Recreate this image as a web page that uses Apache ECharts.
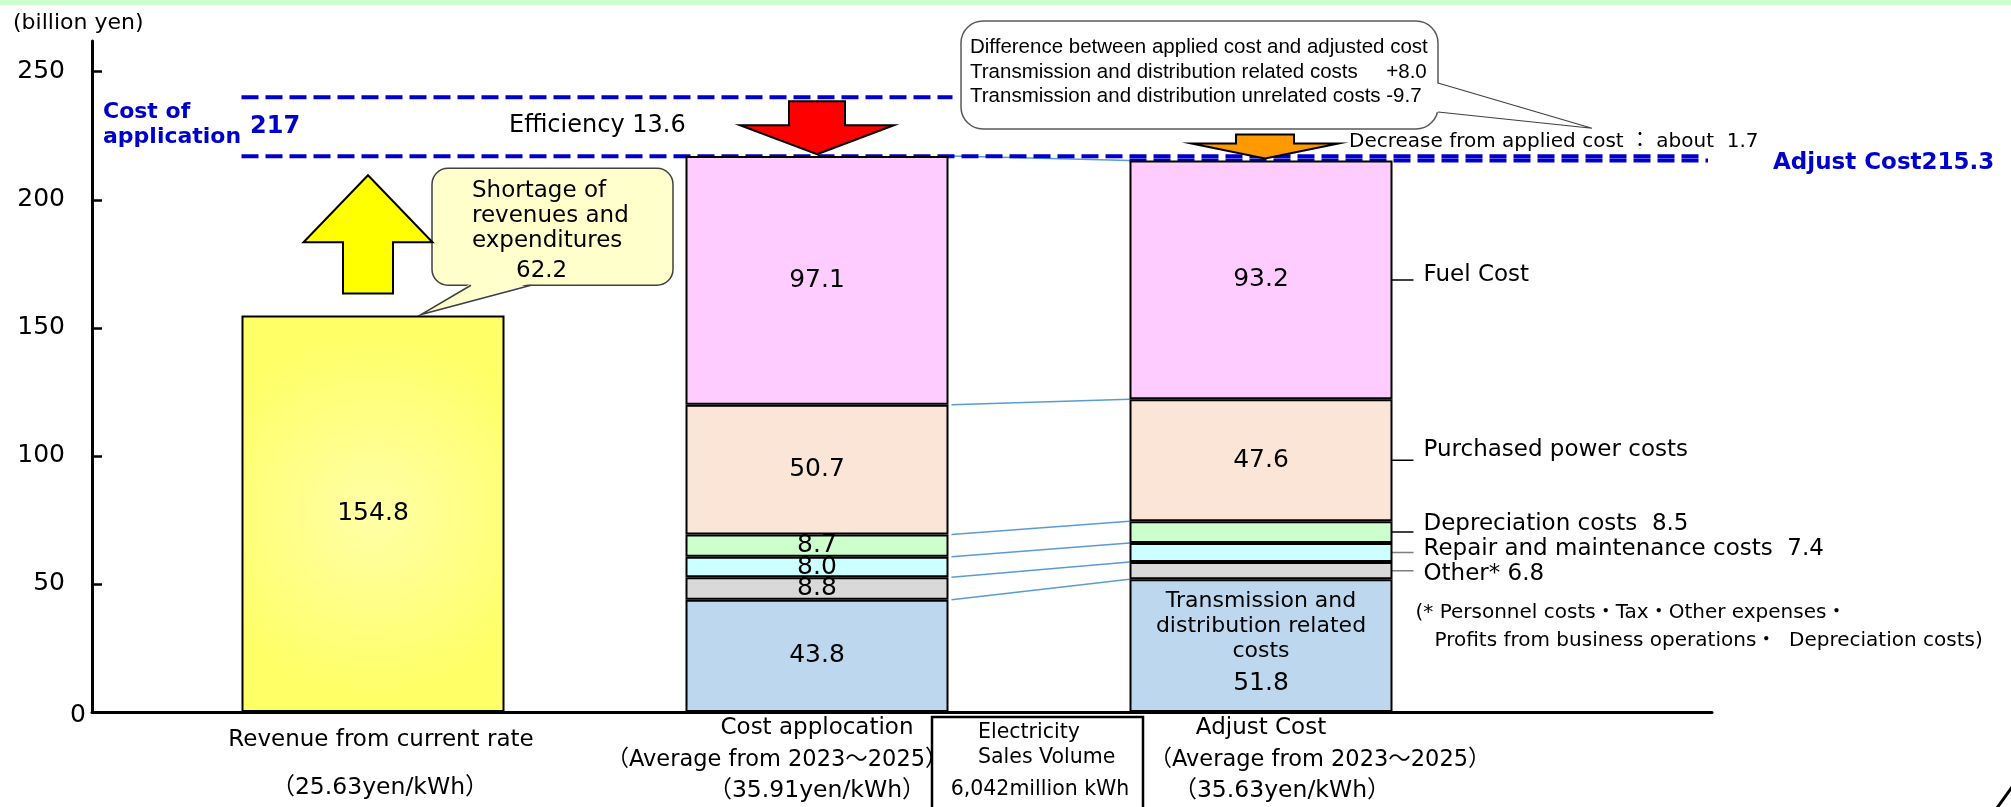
<!DOCTYPE html>
<html>
<head>
<meta charset="utf-8">
<script src="https://cdn.jsdelivr.net/npm/echarts@6/dist/echarts.min.js"></script>
<style>
  html, body { margin: 0; padding: 0; background: #fff; }
  #main { width: 2011px; height: 807px; }
</style>
</head>
<body>
<div id="main"></div>
<script>
// ---- data ----
var categories = ['Revenue from current rate', 'Cost applocation', 'Adjust Cost'];
var unitPrices = ['25.63', '35.91', '35.63'];           // yen/kWh
var revenue = [154.8, '-', '-'];
var costItems = ['Transmission and distribution related costs', 'Other*', 'Repair and maintenance costs',
                 'Depreciation costs', 'Purchased power costs', 'Fuel Cost'];
var appliedCost = [43.8, 8.8, 8.0, 8.7, 50.7, 97.1];
var adjustedCost = [51.8, 6.8, 7.4, 8.5, 47.6, 93.2];
var appliedTotal = 217;
var adjustedTotal = 215.3;
var beforeEfficiency = 240;     // upper dashed line
var efficiency = 13.6;
var shortage = 62.2;
var decrease = 1.7;
var salesVolume = '6,042';
var yTicks = [0, 50, 100, 150, 200, 250];
var yMax = 262;

var costColors = ['#bdd7ee', '#d9d9d9', '#ccffff', '#ccffcc', '#fbe5d6', '#ffccff'];

var FONT = '"DejaVu Sans", "Noto Sans CJK JP", sans-serif';
var ARIAL = '"Liberation Sans", Arial, "Noto Sans CJK JP", sans-serif';
var BLUE = '#0000cc';
var BAR_W = 263;

function cumulate(arr) {
  var s = 0;
  return arr.map(function (v) { s = Math.round((s + v) * 10) / 10; return s; });
}
var appliedTop = cumulate(appliedCost);
var adjustedTop = cumulate(adjustedCost);

var chart = echarts.init(document.getElementById('main'));

// stacked cost segments
var segmentSeries = costItems.map(function (name, i) {
  return {
    name: name,
    type: 'bar',
    stack: 'total',
    xAxisIndex: 1,
    yAxisIndex: 1,
    barWidth: BAR_W,
    data: ['-', appliedCost[i], adjustedCost[i]],
    itemStyle: { color: costColors[i], borderColor: '#000', borderWidth: 2 },
    label: {
      show: true,
      position: 'inside',
      color: '#000',
      fontFamily: FONT,
      fontSize: 25,
      formatter: function (p) {
        if (p.dataIndex === 1) return p.value.toFixed(1);
        if (i === 0) return '{t|Transmission and\ndistribution related\ncosts}\n{v|' + p.value.toFixed(1) + '}';
        return i >= 4 ? p.value.toFixed(1) : '';
      },
      rich: {
        t: { fontSize: 22, lineHeight: 25, fontFamily: FONT, color: '#000' },
        v: { fontSize: 25, lineHeight: 38, fontFamily: FONT, color: '#000' }
      }
    }
  };
});

var revenueSeries = {
  name: 'Revenue',
  type: 'bar',
  stack: 'total',
  xAxisIndex: 1,
  yAxisIndex: 1,
  barWidth: BAR_W,
  data: revenue,
  itemStyle: {
    color: new echarts.graphic.RadialGradient(0.5, 0.5, 0.7, [
      { offset: 0, color: '#ffffa8' },
      { offset: 1, color: '#ffff66' }
    ]),
    borderColor: '#000',
    borderWidth: 2
  },
  label: { show: true, position: 'inside', color: '#000', fontFamily: FONT, fontSize: 25,
           formatter: function (p) { return p.value.toFixed(1); } }
};

// thin blue lines joining the segment boundaries of the two cost bars
var connectorSeries = {
  type: 'custom',
  xAxisIndex: 1,
  yAxisIndex: 1,
  silent: true,
  data: appliedTop.map(function (v, i) { return [1, v, adjustedTop[i]]; }),
  renderItem: function (params, api) {
    var a = api.coord([1, api.value(1)]);
    var b = api.coord([2, api.value(2)]);
    return {
      type: 'line',
      shape: { x1: a[0] + BAR_W / 2 + 3, y1: a[1], x2: b[0] - BAR_W / 2, y2: b[1] },
      style: { stroke: '#5b9bd5', lineWidth: 1.5 }
    };
  }
};

// blue dashed guide lines
var guideValues = [beforeEfficiency, appliedTotal, adjustedTotal];
var guideSeries = {
  type: 'custom',
  xAxisIndex: 1,
  yAxisIndex: 1,
  silent: true,
  data: guideValues.map(function (v, i) { return [0, v, i]; }),
  renderItem: function (params, api) {
    var i = params.dataIndex;
    var y = api.coord([0, api.value(1)])[1];
    var band = api.size([1, 0])[0];
    var c0 = api.coord([0, 0])[0], c1 = api.coord([1, 0])[0], c2 = api.coord([2, 0])[0];
    var x1, x2;
    if (i === 0) { x1 = c0 - BAR_W / 2; x2 = c1 + BAR_W / 2 + 4; }
    else if (i === 1) { x1 = c0 - BAR_W / 2; x2 = c2 + band; }
    else { x1 = c2 - BAR_W / 2; x2 = c2 + band + 3; }
    return {
      type: 'line',
      shape: { x1: x1, y1: y, x2: x2, y2: y },
      style: { stroke: BLUE, lineWidth: 4, lineDash: [17, 7] }
    };
  }
};

// block arrows: shortage, efficiency, decrease
var arrowSpecs = [[0, revenue[0], appliedTotal], [1, beforeEfficiency, appliedTotal], [2, appliedTotal, adjustedTotal]];
var arrowSeries = {
  type: 'custom',
  xAxisIndex: 1,
  yAxisIndex: 1,
  silent: true,
  data: arrowSpecs,
  renderItem: function (params, api) {
    var i = params.dataIndex;
    var cat = api.value(0);
    var from = api.coord([cat, api.value(1)]);
    var to = api.coord([cat, api.value(2)]);
    var cx, base, tip, hw, sw, hh, fill;
    if (i === 0) {
      cx = from[0] - 5; base = from[1] - 22; tip = to[1] + 19; hw = 129; sw = 50; hh = 67; fill = '#ffff00';
    } else if (i === 1) {
      cx = from[0]; base = from[1] + 4; tip = to[1] - 2; hw = 154; sw = 56; hh = 29; fill = '#ff0000';
    } else {
      cx = from[0] + 4; tip = to[1] - 2; base = tip - 24; hw = 147; sw = 58; hh = 15; fill = '#ff9900';
    }
    var d = tip > base ? 1 : -1;
    var hb = tip - d * hh;
    return {
      type: 'polygon',
      shape: { points: [[cx, tip], [cx + hw / 2, hb], [cx + sw / 2, hb], [cx + sw / 2, base],
                        [cx - sw / 2, base], [cx - sw / 2, hb], [cx - hw / 2, hb]] },
      style: { fill: fill, stroke: '#000', lineWidth: 2 }
    };
  }
};

// item names to the right of the adjusted bar
var sideSeries = {
  type: 'custom',
  xAxisIndex: 1,
  yAxisIndex: 1,
  silent: true,
  data: costItems.map(function (n, i) { return [2, adjustedTop[i] - adjustedCost[i] / 2, i]; }).slice(1),
  renderItem: function (params, api) {
    var i = api.value(2);
    var p = api.coord([2, api.value(1)]);
    var right = p[0] + BAR_W / 2;
    var nudge = [0, 3, -3, -8, -10, -5][i];
    var text;
    if (i >= 4) text = costItems[i];
    else if (i === 1) text = costItems[i] + ' ' + adjustedCost[i].toFixed(1);
    else text = costItems[i] + '  ' + adjustedCost[i].toFixed(1);
    var children = [
      { type: 'line', shape: { x1: right - 12, y1: p[1], x2: right + 21, y2: p[1] },
        style: { stroke: i <= 2 ? '#7f7f7f' : '#000', lineWidth: 1.5 } },
      { type: 'text', x: right + 31, y: p[1] + nudge,
        style: { text: text, fill: '#000', fontSize: 23, fontFamily: FONT, align: 'left', verticalAlign: 'middle' } }
    ];
    if (i === 1) {
      children.push({ type: 'text', x: right + 23, y: p[1] + nudge + 39,
        style: { text: '(* Personnel costs・Tax・Other expenses・', fill: '#000', fontSize: 20, fontFamily: FONT, verticalAlign: 'middle' } });
      children.push({ type: 'text', x: right + 42, y: p[1] + nudge + 67,
        style: { text: 'Profits from business operations・  Depreciation costs)', fill: '#000', fontSize: 20, fontFamily: FONT, verticalAlign: 'middle' } });
    }
    return { type: 'group', children: children };
  }
};

var option = {
  backgroundColor: '#fff',
  animation: false,
  grid: [
    { left: 92, right: 299, top: 41, bottom: 95 },
    { left: 151, width: 1332, top: 41, bottom: 95 }
  ],
  xAxis: [
    { gridIndex: 0, type: 'value', min: 0, max: 1,
      axisLine: { show: true, lineStyle: { color: '#000', width: 3 } },
      axisTick: { show: false }, axisLabel: { show: false }, splitLine: { show: false } },
    { gridIndex: 1, type: 'category', data: categories,
      axisLine: { show: false }, axisTick: { show: false },
      axisLabel: {
        interval: 0, margin: 2, color: '#000', fontFamily: FONT,
        formatter: function (name, i) {
          var price = '（' + unitPrices[i] + 'yen/kWh）';
          if (i === 0) return '{a0|' + name + '}\n{p0|' + price + '}';
          if (i === 1) return '{a|' + name + '}\n{m1|（Average from 2023～2025）}\n{p|' + price + '}';
          return '{a|' + name + '}\n{m2|（Average from 2023～2025）}\n{p2|' + price + '}';
        },
        rich: {
          a0: { fontSize: 23, lineHeight: 52, fontFamily: FONT, color: '#000', padding: [0, 0, 0, 16] },
          p0: { fontSize: 23.5, lineHeight: 44, fontFamily: FONT, color: '#000', padding: [0, 0, 0, 14] },
          a: { fontSize: 23, lineHeight: 28, fontFamily: FONT, color: '#000' },
          m1: { fontSize: 22.5, lineHeight: 36, fontFamily: FONT, color: '#000', padding: [0, 80, 0, 0] },
          m2: { fontSize: 22.5, lineHeight: 36, fontFamily: FONT, color: '#000', padding: [0, 0, 0, 118] },
          p: { fontSize: 23.5, lineHeight: 26, fontFamily: FONT, color: '#000' },
          p2: { fontSize: 23.5, lineHeight: 26, fontFamily: FONT, color: '#000', padding: [0, 0, 0, 42] }
        }
      } }
  ],
  yAxis: [
    { gridIndex: 0, type: 'value', min: 0, max: yMax, interval: 50,
      axisLine: { show: true, lineStyle: { color: '#000', width: 3 } },
      axisTick: { show: true, inside: true, length: 10, lineStyle: { color: '#000', width: 2.5 }, customValues: yTicks },
      axisLabel: { customValues: yTicks.slice(1), margin: 27, color: '#000', fontSize: 25, fontFamily: FONT },
      splitLine: { show: false } },
    { gridIndex: 1, type: 'value', min: 0, max: yMax, show: false, splitLine: { show: false } }
  ],
  series: [revenueSeries].concat(segmentSeries, [connectorSeries, guideSeries, arrowSeries, sideSeries])
};

chart.setOption(option);

// annotations placed from the chart's own scale
function px(cat, val) {
  return chart.convertToPixel({ xAxisIndex: 1, yAxisIndex: 1 }, [cat, val]);
}
var yApplied = px(0, appliedTotal)[1];
var yBefore = px(0, beforeEfficiency)[1];
var yAdjusted = px(0, adjustedTotal)[1];
var yZero = px(0, 0)[1];
var bar1 = px(0, revenue[0]);
var mid = (yApplied + yBefore) / 2;

function txt(x, y, text, size, extra) {
  var s = { text: text, fill: '#000', fontSize: size, fontFamily: FONT, align: 'left', verticalAlign: 'middle' };
  for (var k in extra) s[k] = extra[k];
  return { type: 'text', x: x, y: y, silent: true, style: s };
}

var bx = bar1[0] + 59, by = yApplied + 12;
var tip = [bar1[0] + 48, bar1[1] - 1];

var graphics = [
  { type: 'rect', shape: { x: 0, y: 0, width: 2011, height: 5 }, style: { fill: '#ccffcc' }, silent: true },
  txt(13, 23, '(billion yen)', 22),
  txt(78, yZero + 3, '0', 25, { align: 'center' }),
  txt(103, mid - 2, 'Cost of\napplication', 22, { fill: BLUE, fontWeight: 'bold', lineHeight: 25 }),
  txt(250, mid, String(appliedTotal), 24, { fill: BLUE, fontWeight: 'bold' }),
  txt(509, mid - 1, 'Efficiency ' + efficiency.toFixed(1), 24),

  // shortage callout
  { type: 'rect', shape: { x: bx, y: by, width: 241, height: 117, r: 16 },
    style: { fill: '#ffffcc', stroke: '#404040', lineWidth: 1.5 }, silent: true },
  { type: 'polygon', shape: { points: [[bx + 39, by + 115], [tip[0], tip[1]], [bx + 99, by + 115]] },
    style: { fill: '#ffffcc' }, silent: true },
  { type: 'polyline', shape: { points: [[bx + 39, by + 117], [tip[0], tip[1]], [bx + 99, by + 117]] },
    style: { stroke: '#404040', lineWidth: 1.5, fill: null }, silent: true },
  txt(bx + 40, by + 23, 'Shortage of', 23),
  txt(bx + 40, by + 48, 'revenues and', 23),
  txt(bx + 40, by + 73, 'expenditures', 23),
  txt(bx + 84, by + 103, shortage.toFixed(1), 23),

  // difference callout
  { type: 'rect', shape: { x: 961, y: 21, width: 477, height: 108, r: 22 },
    style: { fill: '#fff', stroke: '#595959', lineWidth: 1.5 }, silent: true },
  { type: 'polygon', shape: { points: [[1436, 83], [1592, yApplied - 28], [1436, 112]] },
    style: { fill: '#fff' }, silent: true },
  { type: 'polyline', shape: { points: [[1438, 83], [1592, yApplied - 28], [1438, 112]] },
    style: { stroke: '#404040', lineWidth: 1.2, fill: null }, silent: true },
  txt(970, 47, 'Difference between applied cost and adjusted cost', 20.5, { fontFamily: ARIAL }),
  txt(970, 72, 'Transmission and distribution related costs     +8.0', 20.5, { fontFamily: ARIAL }),
  txt(970, 96, 'Transmission and distribution unrelated costs -9.7', 20.5, { fontFamily: ARIAL }),

  txt(1349, yApplied - 14, 'Decrease from applied cost ： about  ' + decrease.toFixed(1), 20),
  txt(1773, yAdjusted + 2, 'Adjust Cost' + adjustedTotal.toFixed(1), 23, { fill: BLUE, fontWeight: 'bold' }),

  // sales volume box
  { type: 'rect', shape: { x: 932, y: 717, width: 211, height: 100 },
    style: { fill: null, stroke: '#000', lineWidth: 2.5 }, silent: true },
  txt(978, 733, 'Electricity', 20.5),
  txt(978, 758, 'Sales Volume', 20.5),
  txt(1040, 790, salesVolume + 'million kWh', 20.5, { align: 'center' }),

  { type: 'line', shape: { x1: 1997, y1: 808, x2: 2012, y2: 787 }, style: { stroke: '#000', lineWidth: 3 }, silent: true }
];

chart.setOption({ graphic: graphics });
</script>
</body>
</html>
